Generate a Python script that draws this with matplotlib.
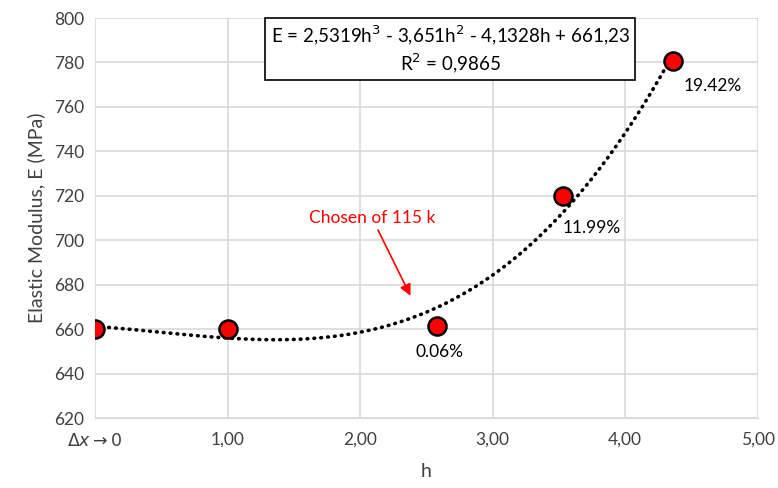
import matplotlib.pyplot as plt
import numpy as np

# Données mesurées
h = [0.0, 1.0, 2.58, 3.53, 4.36]
E = [660.0, 660.0, 661.5, 720.0, 780.5]
ecarts = ['', '', '0.06%', '11.99%', '19.42%']

# Courbe de tendance polynomiale d'ordre 3
coef = [2.5319, -3.651, -4.1328, 661.23]
r2 = 0.9865

plt.rcParams['font.family'] = ['Lato', 'DejaVu Sans']

fig = plt.figure(figsize=(7.78, 4.88), dpi=100)
ax = fig.add_axes([0.1221, 0.1434, 0.852, 0.8197])

# Courbe de tendance
x_tend = np.linspace(h[0], h[-1], 400)
ax.plot(x_tend, np.polyval(coef, x_tend), color='black', linewidth=2.6,
        linestyle=(0, (0.2, 1.7)), dash_capstyle='round', zorder=3)

# Points mesurés
ax.plot(h, E, 'o', markersize=13, markerfacecolor='red', markeredgecolor='black',
        markeredgewidth=1.8, zorder=4)

# Étiquettes des écarts
decalage = {2: (0.02, -12), 3: (0.22, -14.5), 4: (0.3, -11)}
for i, txt in enumerate(ecarts):
    if txt:
        dx, dy = decalage[i]
        ax.text(h[i] + dx, E[i] + dy, txt, fontsize=12.5, ha='center', va='center')

# Équation de la courbe de tendance
eq = (f'E = {coef[0]}h$^3$ - {abs(coef[1])}h$^2$ - {abs(coef[2])}h + {coef[3]}\n'
      f'R$^2$ = {r2}').replace('.', ',')
ax.text(2.68, 786, eq, fontsize=13.5, ha='center', va='center', linespacing=1.2,
        bbox=dict(boxstyle='square,pad=0.3', facecolor='white', edgecolor='black', linewidth=1.2),
        zorder=5)

# Flèche vers le point choisi
ax.annotate('Chosen of 115 k', xy=(2.38, 675), xytext=(2.09, 710), color='red', fontsize=12.5,
            ha='center', va='center',
            arrowprops=dict(arrowstyle='-|>', color='red', linewidth=1.2, shrinkA=1, shrinkB=0,
                            mutation_scale=17))

# Caractéristiques du graphique
ax.set_xlim(0, 5)
ax.set_ylim(620, 800)
ax.set_xticks(np.arange(0, 5.01, 1))
ax.set_xticklabels([r'$\Delta x \rightarrow 0$', '1,00', '2,00', '3,00', '4,00', '5,00'])
ax.set_yticks(np.arange(620, 801, 20))
ax.tick_params(length=0, labelsize=12.5, colors='#404040', pad=8)
ax.tick_params(axis='x', pad=10)
ax.grid(True, color='#d9d9d9', linewidth=1.2)
ax.set_axisbelow(True)
for cote in ['top', 'right', 'left']:
    ax.spines[cote].set_visible(False)
ax.spines['bottom'].set_color('#d9d9d9')
ax.set_xlabel('h', fontsize=14, color='#404040', labelpad=10)
ax.set_ylabel('Elastic Modulus, E (MPa)', fontsize=14, color='#404040', labelpad=6)

fig.savefig('out.png', dpi=100)
